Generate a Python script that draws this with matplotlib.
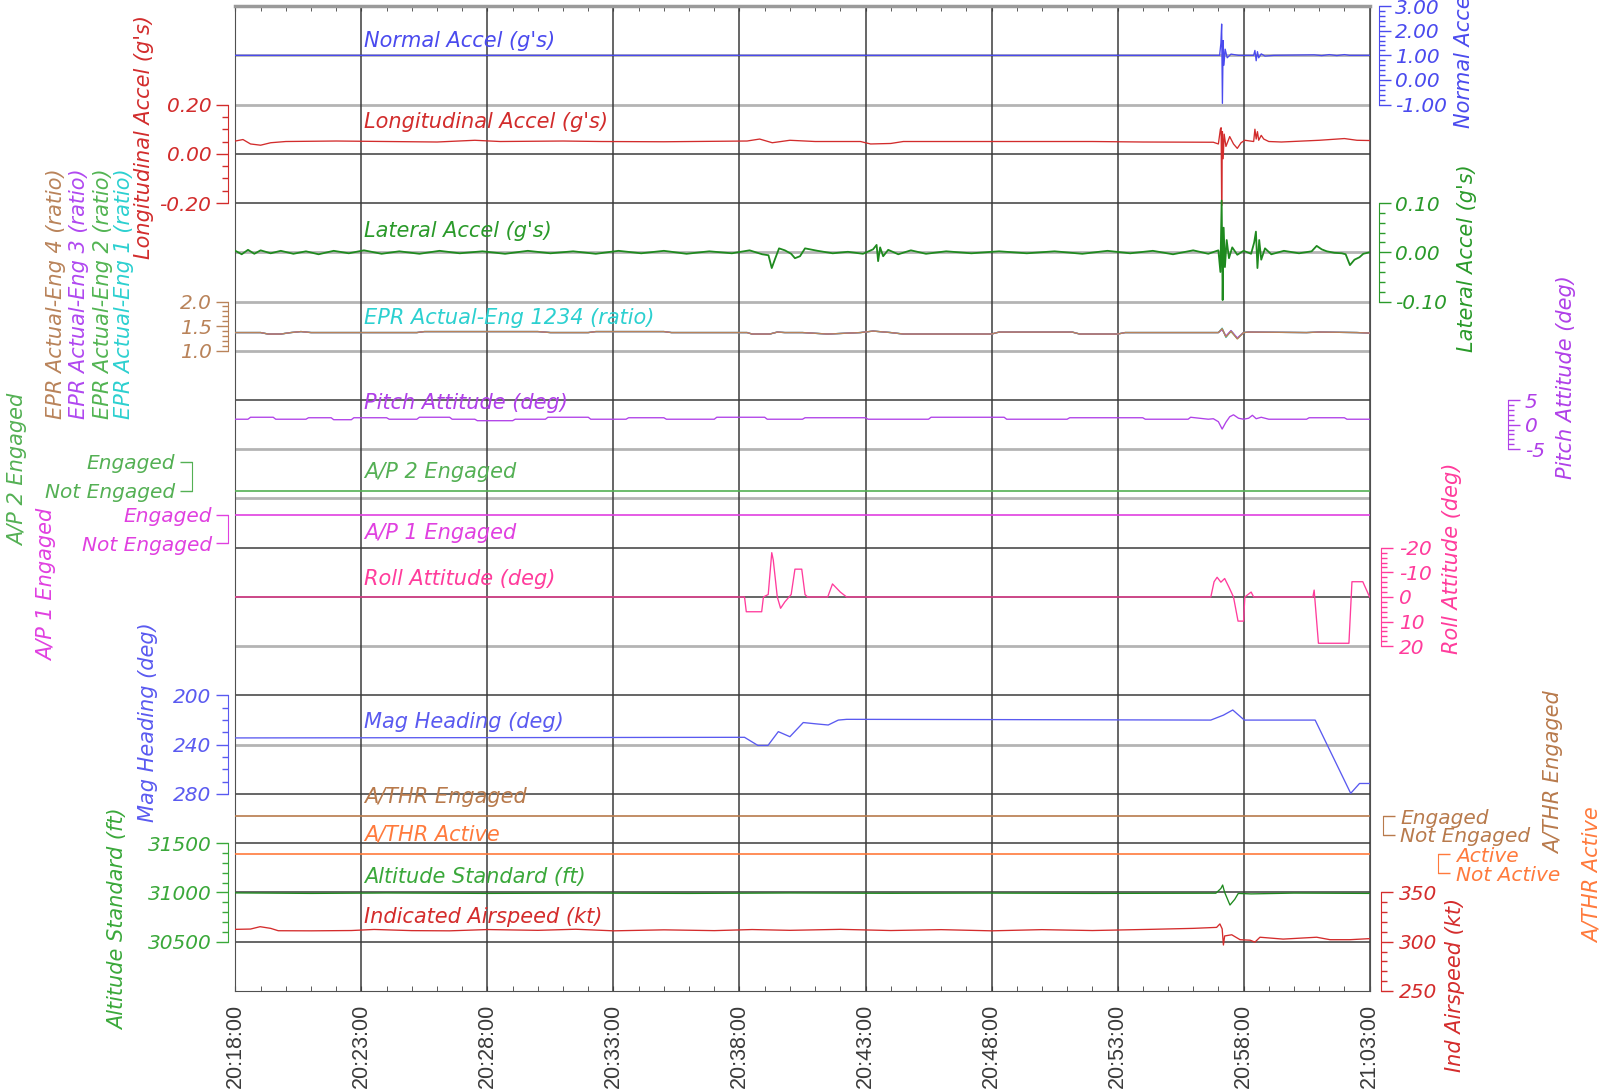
import numpy as np
import matplotlib
matplotlib.use("Agg")
import matplotlib.pyplot as plt

# time axis, minutes after 20:18:00
TIME_TICKS = [0, 5, 10, 15, 20, 25, 30, 35, 40, 45]
TIME_LABELS = ["20:18:00", "20:23:00", "20:28:00", "20:33:00", "20:38:00",
               "20:43:00", "20:48:00", "20:53:00", "20:58:00", "21:03:00"]

# normal accel (g)
NA_T = [0, 38.9, 39.05, 39.1, 39.13, 39.16, 39.19, 39.22, 39.27, 39.35, 39.5, 39.8,
        40.4, 40.45, 40.5, 40.55, 40.6, 40.7, 40.85, 41.2,
        42.8, 43.1, 43.4, 43.7, 44.0, 44.2, 44.3, 45.0]
NA_V = [1.0, 1.0, 1.0, 1.5, 2.27, -0.95, 1.6, 0.6, 1.25, 0.9, 1.05, 1.0,
        1.0, 1.2, 0.78, 1.15, 0.9, 1.06, 0.97, 1.0,
        1.02, 0.99, 1.03, 0.99, 1.03, 1.0, 1.0, 1.0]

# longitudinal accel (g)
LON_T = [0, 0.3, 0.6, 1.0, 1.4, 2.0, 4.0, 6.0, 8.0, 9.5, 10.5, 13.0, 14.5, 17.0, 20.3, 20.8,
         21.3, 22.0, 23.0, 24.8, 25.2, 26.0, 26.5, 30.0, 34.0, 36.0, 38.8, 39.0, 39.08, 39.11,
         39.13, 39.16, 39.19, 39.23, 39.3, 39.45, 39.6, 39.75, 39.9, 40.05, 40.4, 40.45, 40.5,
         40.55, 40.6, 40.7, 40.8, 41.0, 41.5, 43.0, 44.0, 44.5, 45.0]
LON_V = [0.052, 0.058, 0.04, 0.035, 0.045, 0.05, 0.052, 0.05, 0.048, 0.055, 0.05, 0.052, 0.05,
         0.049, 0.052, 0.06, 0.045, 0.055, 0.05, 0.05, 0.04, 0.042, 0.05, 0.05, 0.05, 0.048,
         0.047, 0.04, 0.1, 0.106, -0.21, 0.09, -0.02, 0.08, 0.03, 0.07, 0.04, 0.022, 0.045,
         0.055, 0.05, 0.1, 0.06, 0.09, 0.055, 0.075, 0.06, 0.05, 0.048, 0.055, 0.062, 0.055, 0.054]

# lateral accel (g)
LAT_T = [0.0, 0.25, 0.5, 0.75, 1.0, 1.4, 1.8, 2.3, 2.8, 3.3, 3.9, 4.5, 5.1, 5.8, 6.5, 7.3, 8.1,
         8.9, 9.8, 10.7, 11.6, 12.5, 13.4, 14.3, 15.2, 16.1, 17.0, 17.9, 18.8, 19.7, 20.4, 20.9,
         21.15, 21.28, 21.4, 21.57, 21.8, 22.05, 22.2, 22.4, 22.6, 23.1, 23.7, 24.3, 24.9, 25.3,
         25.44, 25.5, 25.58, 25.7, 25.9, 26.3, 26.8, 27.4, 28.2, 29.2, 30.3, 31.4, 32.5, 33.6,
         34.6, 35.5, 36.4, 37.2, 38.0, 38.6, 39.0, 39.08, 39.13, 39.17, 39.21, 39.26, 39.33,
         39.42, 39.55, 39.75, 40.0, 40.3, 40.42, 40.49, 40.55, 40.62, 40.7, 40.85, 41.1, 41.6,
         42.2, 42.7, 42.9, 43.1, 43.3, 43.6, 43.9, 44.05, 44.22, 44.4, 44.6, 44.75, 45.0]
LAT_V = [0.003, -0.004, 0.005, -0.003, 0.004, -0.002, 0.003, -0.003, 0.002, -0.004, 0.003,
         -0.002, 0.004, -0.003, 0.002, -0.003, 0.003, -0.002, 0.002, -0.003, 0.003, -0.002,
         0.002, -0.003, 0.003, -0.002, 0.003, -0.003, 0.002, -0.002, 0.004, -0.004, -0.006,
         -0.032, -0.015, 0.008, 0.004, -0.003, -0.012, -0.008, 0.008, 0.003, -0.002, 0.001,
         -0.003, 0.006, 0.015, -0.018, 0.01, -0.008, 0.005, -0.004, 0.004, -0.003, 0.002,
         -0.002, 0.002, -0.002, 0.002, -0.003, 0.003, -0.002, 0.003, -0.004, 0.004, -0.003,
         0.004, -0.04, 0.105, -0.097, 0.05, -0.03, 0.025, -0.012, 0.01, -0.005, 0.003, -0.003,
         0.02, 0.042, -0.032, 0.025, -0.015, 0.008, -0.004, 0.003, -0.002, 0.002, 0.013, 0.006,
         0.002, -0.001, -0.002, -0.004, -0.026, -0.015, -0.01, -0.003, 0.0]

# EPR (ratio), engines share the times; only the 20:57 wiggle differs
EPR_T = [0, 1.0, 1.3, 1.8, 2.2, 2.6, 3.0, 5.5, 7.2, 7.5, 12.0, 12.5, 14.0, 14.3, 17.0, 17.3,
         20.3, 20.5, 21.2, 21.5, 21.8, 22.5, 23.5, 24.8, 25.3, 26.0, 26.5, 27.5, 30.0, 30.3,
         33.2, 33.5, 35.0, 35.3, 38.5, 39.0, 39.15, 39.3, 39.5, 39.75, 40.0, 40.2, 42.5, 43.0,
         44.5, 45.0]
EPR_BASE = [1.37, 1.37, 1.34, 1.34, 1.37, 1.39, 1.37, 1.37, 1.37, 1.39, 1.39, 1.37, 1.37, 1.39,
            1.39, 1.37, 1.37, 1.34, 1.34, 1.38, 1.37, 1.37, 1.34, 1.37, 1.40, 1.37, 1.34, 1.34,
            1.34, 1.38, 1.38, 1.34, 1.34, 1.37, 1.37, 1.37, 1.45, 1.28, 1.40, 1.24, 1.37, 1.38,
            1.37, 1.38, 1.37, 1.36]
EPR1_WIGGLE = [1.46, 1.27, 1.41, 1.25]
EPR2_WIGGLE = [1.44, 1.29, 1.39, 1.25]
EPR3_WIGGLE = [1.43, 1.30, 1.41, 1.26]
EPR4_WIGGLE = [1.45, 1.28, 1.40, 1.24]

# pitch attitude (deg)
PITCH_T = [0, 0.5, 0.6, 1.5, 1.6, 2.8, 2.9, 3.8, 3.9, 4.6, 4.7, 6.0, 6.1, 7.2, 7.3, 8.5, 8.6,
           9.5, 9.6, 11.0, 11.1, 12.3, 12.4, 14.0, 14.1, 15.5, 15.6, 17.0, 17.1, 19.0, 19.1,
           21.0, 21.1, 22.5, 22.6, 25.0, 25.1, 27.5, 27.6, 30.5, 30.6, 33.0, 33.1, 36.0, 36.1,
           37.8, 37.9, 38.6, 38.8, 39.0, 39.15, 39.3, 39.45, 39.6, 39.8, 40.0, 40.2, 40.35,
           40.5, 40.7, 41.0, 42.5, 42.6, 44.0, 44.1, 45.0]
PITCH_V = [1.1, 1.1, 1.5, 1.5, 1.1, 1.1, 1.4, 1.4, 1.0, 1.0, 1.4, 1.4, 1.1, 1.1, 1.5, 1.5, 1.1,
           1.1, 0.8, 0.8, 1.1, 1.1, 1.5, 1.5, 1.1, 1.1, 1.4, 1.4, 1.1, 1.1, 1.5, 1.5, 1.1, 1.1,
           1.4, 1.4, 1.1, 1.1, 1.5, 1.5, 1.1, 1.1, 1.4, 1.4, 1.1, 1.1, 1.5, 1.1, 1.2, 0.6,
           -0.9, 0.5, 1.6, 2.0, 1.3, 1.1, 1.3, 1.9, 1.2, 1.5, 1.1, 1.1, 1.4, 1.4, 1.1, 1.1]

# discretes (0 = not engaged / not active, 1 = engaged / active)
DISC_T = [0, 45]
AP2_V = [0, 0]
AP1_V = [1, 1]
ATHR_ENG_V = [1, 1]
ATHR_ACT_V = [1, 1]

# roll attitude (deg)
ROLL_T = [0, 20.2, 20.27, 20.88, 20.95, 21.14, 21.28, 21.34, 21.5, 21.63, 21.8, 22.05, 22.2,
          22.47, 22.6, 22.7, 23.5, 23.69, 24.0, 24.25, 38.7, 38.83, 38.95, 39.1, 39.25, 39.42,
          39.6, 39.78, 40.0, 40.05, 40.3, 40.4, 42.75, 42.8, 42.97, 44.18, 44.3, 44.73, 45.0]
ROLL_V = [0, 0, 6, 6, 0, -1, -18, -15, 0, 4.6, 2, -1, -11.3, -11.3, -1, 0, 0, -5.3, -2, 0,
          0, -6.2, -8, -6, -7.5, -4, 0, 9.8, 9.8, 0, -2, 0, 0, -2.8, 18.8, 18.8, -6.2, -6.2, 0]

# magnetic heading (deg)
HDG_T = [0, 20.2, 20.73, 21.13, 21.54, 22.0, 22.53, 23.0, 23.52, 23.92, 24.25, 24.52, 30.0,
         38.7, 39.2, 39.57, 40.03, 42.84, 44.25, 44.6, 45.0]
HDG_V = [234.5, 234, 240.6, 240.6, 229.4, 233.5, 222, 223, 224, 220, 219.4, 219.4, 219.6,
         220, 216, 211.8, 220, 220, 279.5, 271.5, 271.5]

# altitude standard (ft)
ALT_T = [0, 3, 6, 10, 14, 18, 22, 26, 30, 34, 38.9, 39.1, 39.17, 39.25, 39.46, 39.65, 39.79,
         40.3, 42, 45]
ALT_V = [30995, 30990, 30994, 30990, 30993, 30990, 30994, 30991, 30993, 30990, 30992, 31040,
         31075, 31000, 30872, 30930, 30990, 30985, 30993, 30990]

# indicated airspeed (kt)
IAS_T = [0, 0.6, 0.98, 1.4, 1.7, 3.0, 4.6, 5.5, 7.0, 8.5, 10.0, 12.0, 13.5, 15.0, 17.0, 19.0,
         20.5, 22.0, 24.0, 26.0, 28.0, 30.0, 32.0, 34.0, 36.3, 38.0, 38.93, 39.06, 39.15, 39.2,
         39.25, 39.53, 39.86, 40.26, 40.45, 40.65, 41.57, 42.9, 43.43, 44.22, 44.94, 45.0]
IAS_V = [312.5, 312.8, 315.2, 313.5, 311.1, 311.0, 311.3, 312.4, 311.2, 311.0, 312.3, 311.5,
         312.6, 311.0, 312.0, 311.2, 312.3, 311.5, 312.5, 311.3, 312.2, 311.0, 312.2, 311.3,
         312.5, 313.5, 314.5, 318, 313, 296.6, 305.8, 307, 302, 301.5, 299.5, 304.5, 302.6,
         304.5, 302, 302, 303, 303]

# horizontal separator rows (in strip units, 0..20 bottom to top)
BLACK_ROWS = [1, 2, 3, 4, 6, 8, 9, 12, 16, 17]
GRAY_ROWS = [5, 7, 10, 11, 13, 14, 15, 18, 19]

C_NORMAL = "#4a4aee"
C_LONG = "#d22c2c"
C_LAT = "#2a9a2a"
C_EPR1 = "#2cd0d0"
C_EPR2 = "#52b452"
C_EPR3 = "#b048f0"
C_EPR4 = "#b9835a"
C_PITCH = "#b040e8"
C_AP2 = "#54b054"
C_AP1 = "#e040e0"
C_ROLL = "#ff3c9c"
C_HDG = "#5a5af0"
C_ATHR_E = "#b87a4c"
C_ATHR_A = "#ff7a3c"
C_ALT = "#3aa83a"
C_IAS = "#d42c2c"

W, H = 1605, 1091
AX_L, AX_R, AX_T, AX_B = 235.4, 1369.6, 6.1, 990.9
LW = 0.95

plt.rcParams["font.family"] = "DejaVu Sans"
plt.rcParams["font.style"] = "oblique"

fig = plt.figure(figsize=(W / 100, H / 100), dpi=100)
ax = fig.add_axes([AX_L / W, 1 - AX_B / H, (AX_R - AX_L) / W, (AX_B - AX_T) / H])
ax.set_xlim(0, 45)
ax.set_ylim(0, 20)
ax.set_yticks([])
ax.set_xticks(TIME_TICKS)
ax.set_xticklabels(TIME_LABELS, rotation=90, family="Liberation Sans", style="normal",
                   fontsize=15.5, color="#3a3a3a")
ax.set_xticks(range(46), minor=True)
ax.tick_params(axis="x", which="both", direction="in", top=True, length=3.8,
               color="#404040", pad=9)
ax.grid(axis="x", which="major", color="#3c3c3c", lw=1.1)
for u in BLACK_ROWS:
    ax.axhline(u, color="#3c3c3c", lw=1.1, zorder=1)
for u in GRAY_ROWS:
    ax.axhline(u, color="#b4b4b4", lw=2.0, zorder=1)
for s in ax.spines.values():
    s.set_color("#505050")
ax.spines["top"].set_color("#9a9a9a")
ax.spines["top"].set_linewidth(2.5)


def px(x, y):
    return x / W, 1 - y / H


def scale_axis(a, b, side, offset, bounds, color, ticks, labels, minor=None, pad=3.5):
    # strip value v sits at row a + b*v of the main 0..20 axis
    t = ax.twinx()
    t.set_ylim(-a / b, (20 - a) / b)
    for s in t.spines.values():
        s.set_visible(False)
    sp = t.spines[side]
    sp.set_visible(True)
    sp.set_position(("outward", offset * 0.72))
    sp.set_bounds(*bounds)
    sp.set_color(color)
    if side == "left":
        t.yaxis.tick_left()
    else:
        t.yaxis.tick_right()
    t.set_yticks(ticks)
    t.set_yticklabels(labels)
    if minor is not None:
        t.set_yticks(minor, minor=True)
    t.tick_params(axis="y", which="major", length=8.3, width=1, color=color,
                  labelcolor=color, labelsize=14.5, pad=pad)
    t.tick_params(axis="y", which="minor", length=4.2, width=1, color=color)
    return t


ax_na = scale_axis(18.5, 0.5, "right", 9.4, (-1, 3), C_NORMAL, [-1, 0, 1, 2, 3],
                   ["-1.00", "0.00", "1.00", "2.00", "3.00"], np.arange(-1, 3.01, 0.2))
ax_na.plot(NA_T, NA_V, color=C_NORMAL, lw=LW)

ax_lon = scale_axis(17, 5, "left", 7.7, (-0.2, 0.2), C_LONG, [-0.2, 0, 0.2],
                    ["-0.20", "0.00", "0.20"], np.arange(-0.2, 0.201, 0.05))
ax_lon.plot(LON_T, LON_V, color=C_LONG, lw=LW)

ax_lat = scale_axis(15, 10, "right", 9.4, (-0.1, 0.1), C_LAT, [-0.1, 0, 0.1],
                    ["-0.10", "0.00", "0.10"], np.arange(-0.1, 0.101, 0.02))
ax_lat.plot(LAT_T, LAT_V, color="#1f8a1f", lw=1.3)

ax_epr = scale_axis(12, 1, "left", 7.1, (1.0, 2.0), C_EPR4, [1.0, 1.5, 2.0],
                    ["1.0", "1.5", "2.0"], np.arange(1.0, 2.01, 0.1))
for wig, col in [(EPR1_WIGGLE, C_EPR1), (EPR2_WIGGLE, C_EPR2),
                 (EPR3_WIGGLE, C_EPR3), (EPR4_WIGGLE, C_EPR4)]:
    vals = EPR_BASE[:36] + wig + EPR_BASE[40:]
    ax_epr.plot(EPR_T, vals, color=col, lw=LW)

ax_pitch = scale_axis(11.5, 0.1, "right", 138.7, (-5, 5), C_PITCH, [-5, 0, 5],
                      ["-5", "0", "5"], np.arange(-5, 5.1, 1))
ax_pitch.plot(PITCH_T, PITCH_V, color=C_PITCH, lw=LW)

ax_ap2 = scale_axis(10.158, 0.589, "left", 43.7, (0, 1), C_AP2, [0, 1],
                    ["Not Engaged", "Engaged"])
ax_ap2.plot(DISC_T, AP2_V, color=C_AP2, lw=1.2)

ax_ap1 = scale_axis(9.09, 0.575, "left", 7.1, (0, 1), C_AP1, [0, 1],
                    ["Not Engaged", "Engaged"])
ax_ap1.plot(DISC_T, AP1_V, color=C_AP1, lw=1.2)

ax_roll = scale_axis(8, -0.05, "right", 11.9, (-20, 20), C_ROLL, [-20, -10, 0, 10, 20],
                     ["-20", "-10", "0", "10", "20"], np.arange(-20, 20.1, 2), pad=4.5)
ax_roll.plot(ROLL_T, ROLL_V, color=C_ROLL, lw=LW)

ax_hdg = scale_axis(11, -0.025, "left", 7.7, (200, 280), C_HDG, [200, 240, 280],
                    ["200", "240", "280"], np.arange(200, 280.1, 10))
ax_hdg.plot(HDG_T, HDG_V, color=C_HDG, lw=LW)

ax_athe = scale_axis(3.1665, 0.384, "right", 13, (0, 1), C_ATHR_E, [0, 1],
                     ["Not Engaged", "Engaged"], pad=4.5)
ax_athe.plot(DISC_T, ATHR_ENG_V, color=C_ATHR_E, lw=1.2)

ax_atha = scale_axis(2.388, 0.392, "right", 68.6, (0, 1), C_ATHR_A, [0, 1],
                     ["Not Active", "Active"], pad=4.5)
ax_atha.plot(DISC_T, ATHR_ACT_V, color=C_ATHR_A, lw=1.2)

ax_alt = scale_axis(-60, 0.002, "left", 7.7, (30500, 31500), C_ALT, [30500, 31000, 31500],
                    ["30500", "31000", "31500"], np.arange(30500, 31501, 100))
ax_alt.plot(ALT_T, ALT_V, color="#1e8a1e", lw=LW)

ax_ias = scale_axis(-5, 0.02, "right", 11.9, (250, 350), C_IAS, [250, 300, 350],
                    ["250", "300", "350"], np.arange(250, 350.1, 10), pad=4.5)
ax_ias.plot(IAS_T, IAS_V, color=C_IAS, lw=LW)

# names inside the plot
inside = [
    ("Normal Accel (g's)", 19.30, C_NORMAL),
    ("Longitudinal Accel (g's)", 17.65, C_LONG),
    ("Lateral Accel (g's)", 15.43, C_LAT),
    ("EPR Actual-Eng 1234 (ratio)", 13.66, C_EPR1),
    ("Pitch Attitude (deg)", 11.93, C_PITCH),
    ("A/P 2 Engaged", 10.54, C_AP2),
    ("A/P 1 Engaged", 9.29, C_AP1),
    ("Roll Attitude (deg)", 8.36, C_ROLL),
    ("Mag Heading (deg)", 5.47, C_HDG),
    ("A/THR Engaged", 3.93, C_ATHR_E),
    ("A/THR Active", 3.18, C_ATHR_A),
    ("Altitude Standard (ft)", 2.31, C_ALT),
    ("Indicated Airspeed (kt)", 1.50, C_IAS),
]
for txt, u, col in inside:
    ax.text(5.12, u, txt, color=col, fontsize=15, ha="left", va="center", zorder=5)

# rotated axis names around the plot (x, y in image pixels)
outside = [
    ("Longitudinal Accel (g's)", 143.5, 137, C_LONG),
    ("EPR Actual-Eng 4 (ratio)", 56, 294, C_EPR4),
    ("EPR Actual-Eng 3 (ratio)", 79, 294, C_EPR3),
    ("EPR Actual-Eng 2 (ratio)", 103, 294, C_EPR2),
    ("EPR Actual-Eng 1 (ratio)", 123.5, 294, C_EPR1),
    ("A/P 2 Engaged", 18.5, 470, C_AP2),
    ("A/P 1 Engaged", 46.7, 585, C_AP1),
    ("Mag Heading (deg)", 148, 722, C_HDG),
    ("Altitude Standard (ft)", 118.3, 919, C_ALT),
    ("Normal Accel (g's)", 1464, 32, C_NORMAL),
    ("Lateral Accel (g's)", 1467, 258, C_LAT),
    ("Pitch Attitude (deg)", 1566, 377, C_PITCH),
    ("Roll Attitude (deg)", 1451.6, 558, C_ROLL),
    ("A/THR Engaged", 1554.5, 773, C_ATHR_E),
    ("A/THR Active", 1593, 875, C_ATHR_A),
    ("Ind Airspeed (kt)", 1455, 985, C_IAS),
]
for txt, x, y, col in outside:
    fx, fy = px(x, y)
    fig.text(fx, fy, txt, color=col, fontsize=15, rotation=90, ha="center", va="center")

fig.savefig("out.png", dpi=100)
